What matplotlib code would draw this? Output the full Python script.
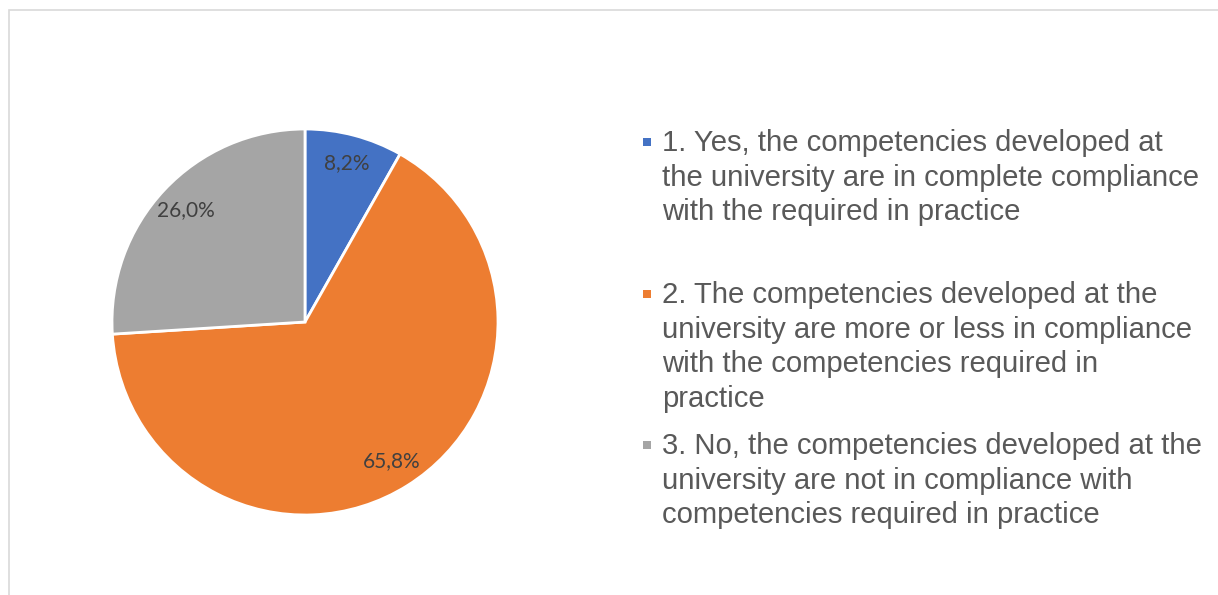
import matplotlib.pyplot as plt
from matplotlib.patches import Rectangle

categories = [
    "1. Yes, the competencies developed at\nthe university are in complete compliance\nwith the required in practice",
    "2. The competencies developed at the\nuniversity are more or less in compliance\nwith the competencies required in\npractice",
    "3. No, the competencies developed at the\nuniversity are not in compliance with\ncompetencies required in practice",
]
shares = [8.2, 65.8, 26.0]
colors = ["#4472C4", "#ED7D31", "#A5A5A5"]

W, H = 1218, 595
fig = plt.figure(figsize=(W / 100, H / 100), dpi=100)

# chart frame (only top and left edges are inside the picture)
fig.add_artist(Rectangle((9 / W, -0.1), 1.2, (H - 10) / H + 0.1,
                         transform=fig.transFigure, fill=False,
                         edgecolor="#d9d9d9", linewidth=1.2))

# pie: centre (305, 322), radius 193 px
cx, cy, r = 305, 322, 193
ax = fig.add_axes([(cx - r) / W, (H - cy - r) / H, 2 * r / W, 2 * r / H])
wedges, texts, autotexts = ax.pie(
    shares, colors=colors, startangle=90, counterclock=False,
    autopct=lambda p: f"{p:.1f}%".replace(".", ","), pctdistance=0.85,
    wedgeprops=dict(edgecolor="white", linewidth=2),
    textprops=dict(fontsize=15, color="#404040", family="Lato"))
ax.set_xlim(-1, 1)
ax.set_ylim(-1, 1)

# legend, entries spaced evenly
tops = [132, 284, 435]
for label, color, top in zip(categories, colors, tops):
    fig.add_artist(Rectangle((643 / W, (H - top - 14) / H), 8 / W, 8 / H,
                             transform=fig.transFigure, facecolor=color,
                             edgecolor="none"))
    fig.text(662 / W, (H - top + 3) / H, label, ha="left", va="top",
             fontsize=21.1, color="#595959", family="Liberation Sans",
             linespacing=1.3)

fig.savefig("out.png", dpi=100)
